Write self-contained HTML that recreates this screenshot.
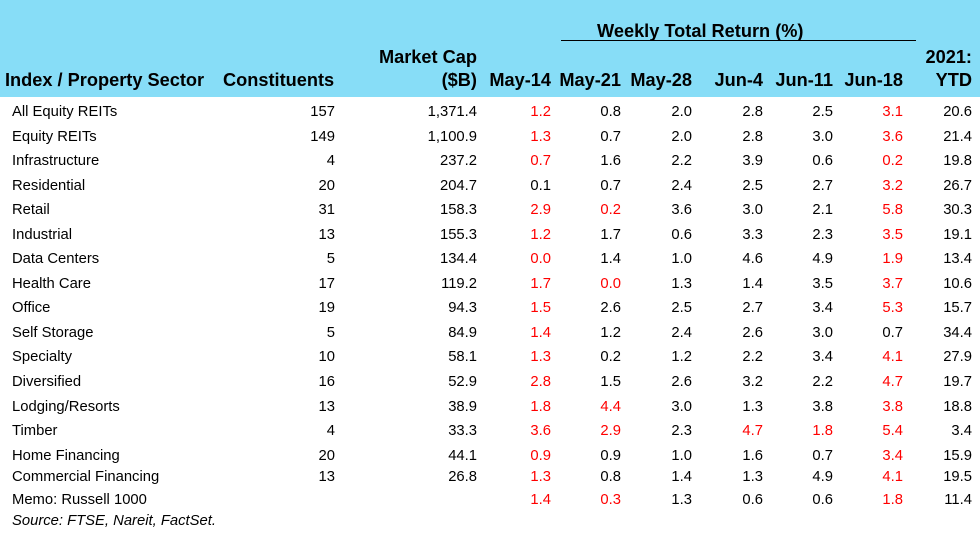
<!DOCTYPE html>
<html><head><meta charset="utf-8"><style>
*{margin:0;padding:0}
body{width:980px;height:551px;position:relative;background:#fff;font-family:"Liberation Sans",Arial,sans-serif;color:#000;overflow:hidden}
.hdr{position:absolute;left:0;top:0;width:980px;height:97px;background:#87ddf7}
.h{position:absolute;font-weight:bold;font-size:18.2px;line-height:20px;white-space:nowrap}
.r{position:absolute;left:0;width:980px;height:20px;font-size:14.8px;line-height:20px}
.r span{position:absolute;white-space:nowrap}
.n{left:12px}
.a{right:645px}.b{right:503px}.c{right:429px}.d{right:359px}.e{right:288px}.f{right:217px}.g{right:147px}.i{right:77px}.j{right:8px}
.red{color:#f00}
</style></head><body>
<div class="hdr"></div>
<div class="h" style="left:5px;top:70px">Index / Property Sector</div>
<div class="h" style="left:223px;top:70px">Constituents</div>
<div class="h" style="right:503px;top:47px;text-align:right">Market Cap</div>
<div class="h" style="right:503px;top:70px">($B)</div>
<div class="h" style="left:597px;top:21px">Weekly Total Return (%)</div>
<div style="position:absolute;left:561px;top:40px;width:355px;height:1px;background:#000"></div>
<div class="h" style="right:429px;top:70px">May-14</div>
<div class="h" style="right:359px;top:70px">May-21</div>
<div class="h" style="right:288px;top:70px">May-28</div>
<div class="h" style="right:217px;top:70px">Jun-4</div>
<div class="h" style="right:147px;top:70px">Jun-11</div>
<div class="h" style="right:77px;top:70px">Jun-18</div>
<div class="h" style="right:8px;top:47px">2021:</div>
<div class="h" style="right:8px;top:70px">YTD</div>

<div class="r" style="top:102px"><span class="n">All Equity REITs</span><span class="a">157</span><span class="b">1,371.4</span><span class="c red">1.2</span><span class="d">0.8</span><span class="e">2.0</span><span class="f">2.8</span><span class="g">2.5</span><span class="i red">3.1</span><span class="j">20.6</span></div>
<div class="r" style="top:127px"><span class="n">Equity REITs</span><span class="a">149</span><span class="b">1,100.9</span><span class="c red">1.3</span><span class="d">0.7</span><span class="e">2.0</span><span class="f">2.8</span><span class="g">3.0</span><span class="i red">3.6</span><span class="j">21.4</span></div>
<div class="r" style="top:151px"><span class="n">Infrastructure</span><span class="a">4</span><span class="b">237.2</span><span class="c red">0.7</span><span class="d">1.6</span><span class="e">2.2</span><span class="f">3.9</span><span class="g">0.6</span><span class="i red">0.2</span><span class="j">19.8</span></div>
<div class="r" style="top:176px"><span class="n">Residential</span><span class="a">20</span><span class="b">204.7</span><span class="c">0.1</span><span class="d">0.7</span><span class="e">2.4</span><span class="f">2.5</span><span class="g">2.7</span><span class="i red">3.2</span><span class="j">26.7</span></div>
<div class="r" style="top:200px"><span class="n">Retail</span><span class="a">31</span><span class="b">158.3</span><span class="c red">2.9</span><span class="d red">0.2</span><span class="e">3.6</span><span class="f">3.0</span><span class="g">2.1</span><span class="i red">5.8</span><span class="j">30.3</span></div>
<div class="r" style="top:225px"><span class="n">Industrial</span><span class="a">13</span><span class="b">155.3</span><span class="c red">1.2</span><span class="d">1.7</span><span class="e">0.6</span><span class="f">3.3</span><span class="g">2.3</span><span class="i red">3.5</span><span class="j">19.1</span></div>
<div class="r" style="top:249px"><span class="n">Data Centers</span><span class="a">5</span><span class="b">134.4</span><span class="c red">0.0</span><span class="d">1.4</span><span class="e">1.0</span><span class="f">4.6</span><span class="g">4.9</span><span class="i red">1.9</span><span class="j">13.4</span></div>
<div class="r" style="top:274px"><span class="n">Health Care</span><span class="a">17</span><span class="b">119.2</span><span class="c red">1.7</span><span class="d red">0.0</span><span class="e">1.3</span><span class="f">1.4</span><span class="g">3.5</span><span class="i red">3.7</span><span class="j">10.6</span></div>
<div class="r" style="top:298px"><span class="n">Office</span><span class="a">19</span><span class="b">94.3</span><span class="c red">1.5</span><span class="d">2.6</span><span class="e">2.5</span><span class="f">2.7</span><span class="g">3.4</span><span class="i red">5.3</span><span class="j">15.7</span></div>
<div class="r" style="top:323px"><span class="n">Self Storage</span><span class="a">5</span><span class="b">84.9</span><span class="c red">1.4</span><span class="d">1.2</span><span class="e">2.4</span><span class="f">2.6</span><span class="g">3.0</span><span class="i">0.7</span><span class="j">34.4</span></div>
<div class="r" style="top:347px"><span class="n">Specialty</span><span class="a">10</span><span class="b">58.1</span><span class="c red">1.3</span><span class="d">0.2</span><span class="e">1.2</span><span class="f">2.2</span><span class="g">3.4</span><span class="i red">4.1</span><span class="j">27.9</span></div>
<div class="r" style="top:372px"><span class="n">Diversified</span><span class="a">16</span><span class="b">52.9</span><span class="c red">2.8</span><span class="d">1.5</span><span class="e">2.6</span><span class="f">3.2</span><span class="g">2.2</span><span class="i red">4.7</span><span class="j">19.7</span></div>
<div class="r" style="top:397px"><span class="n">Lodging/Resorts</span><span class="a">13</span><span class="b">38.9</span><span class="c red">1.8</span><span class="d red">4.4</span><span class="e">3.0</span><span class="f">1.3</span><span class="g">3.8</span><span class="i red">3.8</span><span class="j">18.8</span></div>
<div class="r" style="top:421px"><span class="n">Timber</span><span class="a">4</span><span class="b">33.3</span><span class="c red">3.6</span><span class="d red">2.9</span><span class="e">2.3</span><span class="f red">4.7</span><span class="g red">1.8</span><span class="i red">5.4</span><span class="j">3.4</span></div>
<div class="r" style="top:446px"><span class="n">Home Financing</span><span class="a">20</span><span class="b">44.1</span><span class="c red">0.9</span><span class="d">0.9</span><span class="e">1.0</span><span class="f">1.6</span><span class="g">0.7</span><span class="i red">3.4</span><span class="j">15.9</span></div>
<div class="r" style="top:467px"><span class="n">Commercial Financing</span><span class="a">13</span><span class="b">26.8</span><span class="c red">1.3</span><span class="d">0.8</span><span class="e">1.4</span><span class="f">1.3</span><span class="g">4.9</span><span class="i red">4.1</span><span class="j">19.5</span></div>
<div class="r" style="top:490px"><span class="n">Memo: Russell 1000</span><span class="c red">1.4</span><span class="d red">0.3</span><span class="e">1.3</span><span class="f">0.6</span><span class="g">0.6</span><span class="i red">1.8</span><span class="j">11.4</span></div>
<div class="r" style="top:511px"><span class="n" style="font-style:italic">Source: FTSE, Nareit, FactSet.</span></div>
</body></html>
